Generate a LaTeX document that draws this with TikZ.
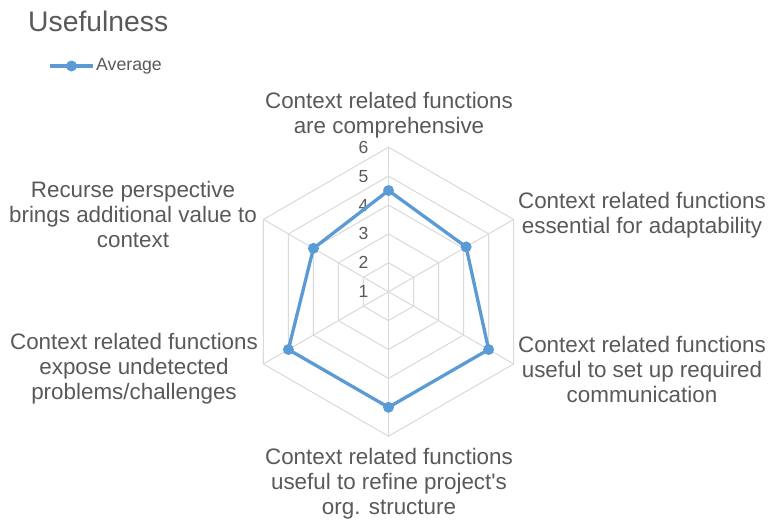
\documentclass[tikz,border=0pt]{standalone}
\usepackage{fontspec}
\setmainfont{Liberation Sans}
\usetikzlibrary{calc}
\definecolor{gridgray}{HTML}{D9D9D9}
\definecolor{seriesblue}{HTML}{5B9BD5}
\definecolor{txtgray}{HTML}{595959}

\begin{document}
\begin{tikzpicture}[x=1pt,y=1pt,
  gridline/.style={gridgray,line width=1pt},
  series/.style={seriesblue,line width=3.3pt,line join=round},
  dot/.style={circle,fill=seriesblue,inner sep=0pt,minimum size=11pt},
  catlabel/.style={text=txtgray,align=center,inner sep=0pt,font=\fontsize{22.4}{25}\selectfont},
  ticklabel/.style={text=txtgray,anchor=east,inner sep=0pt,font=\fontsize{17.5}{19}\selectfont}]

\useasboundingbox (0,0) rectangle (768,-520);

\node[anchor=base west,inner sep=0pt,text=txtgray,font=\fontsize{28.3}{32}\selectfont] (title) at (28,-31) {Usefulness};

\coordinate (lg1) at (50,-66);
\coordinate (lg2) at (93,-66);
\draw[series] (lg1) -- (lg2);
\node[dot] (lgdot) at ($(lg1)!0.5!(lg2)$) {};
\node[anchor=west,inner sep=0pt,text=txtgray,font=\fontsize{17.7}{20}\selectfont] (lgtext) at (96,-66) {Average};

\begin{scope}[shift={(388.5,-291.7)}]
\coordinate (o) at (0,0);
\draw[gridline] (90:28.9) -- (30:28.9) -- (-30:28.9) -- (-90:28.9) -- (-150:28.9) -- (150:28.9) -- cycle;
\draw[gridline] (90:57.8) -- (30:57.8) -- (-30:57.8) -- (-90:57.8) -- (-150:57.8) -- (150:57.8) -- cycle;
\draw[gridline] (90:86.7) -- (30:86.7) -- (-30:86.7) -- (-90:86.7) -- (-150:86.7) -- (150:86.7) -- cycle;
\draw[gridline] (90:115.6) -- (30:115.6) -- (-30:115.6) -- (-90:115.6) -- (-150:115.6) -- (150:115.6) -- cycle;
\draw[gridline] (90:144.5) -- (30:144.5) -- (-30:144.5) -- (-90:144.5) -- (-150:144.5) -- (150:144.5) -- cycle;
\draw[gridline] (o) -- (90:144.5);
\draw[gridline] (o) -- (30:144.5);
\draw[gridline] (o) -- (-30:144.5);
\draw[gridline] (o) -- (-90:144.5);
\draw[gridline] (o) -- (-150:144.5);
\draw[gridline] (o) -- (150:144.5);

\node[ticklabel] (t1) at (-20,0) {1};
\node[ticklabel] (t2) at (-20,28.9) {2};
\node[ticklabel] (t3) at (-20,57.8) {3};
\node[ticklabel] (t4) at (-20,86.7) {4};
\node[ticklabel] (t5) at (-20,115.6) {5};
\node[ticklabel] (t6) at (-20,144.5) {6};

\coordinate (p1) at (90:101.2);
\coordinate (p2) at (30:89.6);
\coordinate (p3) at (-30:115.6);
\coordinate (p4) at (-90:115.6);
\coordinate (p5) at (-150:115.6);
\coordinate (p6) at (150:86.7);
\draw[series] (p1) -- (p2) -- (p3) -- (p4) -- (p5) -- (p6) -- cycle;
\node[dot] (m1) at (p1) {};
\node[dot] (m2) at (p2) {};
\node[dot] (m3) at (p3) {};
\node[dot] (m4) at (p4) {};
\node[dot] (m5) at (p5) {};
\node[dot] (m6) at (p6) {};
\end{scope}

\node[catlabel] (ax1) at (389,-115) {Context related functions\\are comprehensive};
\node[catlabel] (ax2) at (642,-215) {Context related functions\\essential for adaptability};
\node[catlabel] (ax3) at (642,-369) {Context related functions\\useful to set up required\\communication};
\node[catlabel] (ax4) at (389,-484) {Context related functions\\useful to refine project\textquotesingle s\\org. structure};
\node[catlabel] (ax5) at (134,-369) {Context related functions\\expose undetected\\problems/challenges};
\node[catlabel] (ax6) at (133,-214) {Recurse perspective\\brings additional value to\\context};
\end{tikzpicture}
\end{document}
